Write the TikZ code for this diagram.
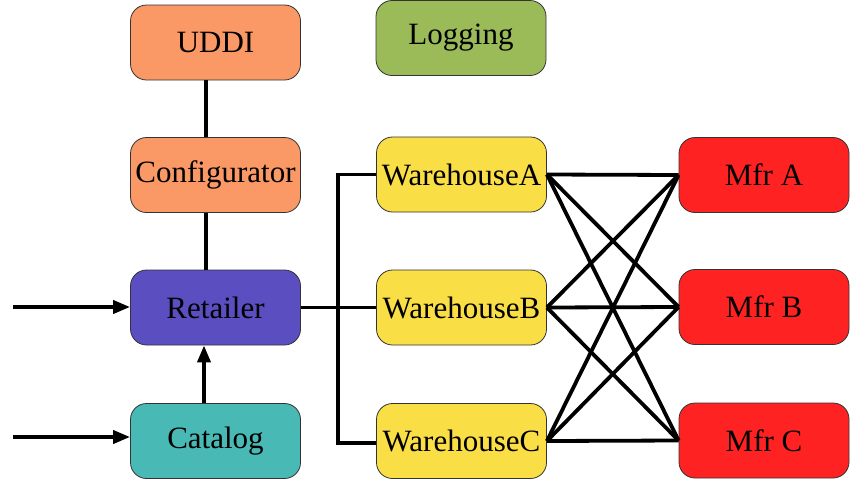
\documentclass[tikz,border=0pt]{standalone}
\usepackage{fontspec}
\setmainfont{Liberation Serif}
\newfontfamily\tnr{Liberation Serif}
\usetikzlibrary{arrows.meta}
\definecolor{cuddi}{RGB}{250,152,102}
\definecolor{clog}{RGB}{155,187,89}
\definecolor{cret}{RGB}{90,78,192}
\definecolor{ccat}{RGB}{72,185,180}
\definecolor{cwh}{RGB}{250,222,70}
\definecolor{cmfr}{RGB}{255,34,34}
\tikzset{
  box/.style={draw=black!80, line width=0.8pt, rounded corners=16pt, minimum width=170pt, minimum height=75pt, inner sep=0pt, font=\tnr\fontsize{31}{36}\selectfont},
  link/.style={line width=3.8pt, line cap=butt},
  arr/.style={link, -{Triangle[length=17pt,width=13pt]}}
}
\begin{document}
\begin{tikzpicture}[x=1pt,y=-1pt]
\useasboundingbox (0,0) rectangle (851,480);
\node[box, fill=cuddi] (uddi) at (215.5,42.5) {UDDI};
\node[box, fill=clog] (logging) at (461,38) {Logging};
\node[box, fill=cuddi] (conf) at (215.5,175) {Configurator};
\node[box, fill=cret] (ret) at (215.5,307.5) {Retailer};
\node[box, fill=ccat] (cat) at (215.5,441) {Catalog};
\node[box, fill=cwh] (wa) at (461.5,174.5) {WarehouseA};
\node[box, fill=cwh] (wb) at (461.5,307.5) {WarehouseB};
\node[box, fill=cwh] (wc) at (461.5,441) {WarehouseC};
\node[box, fill=cmfr] (ma) at (764,175) {Mfr A};
\node[box, fill=cmfr] (mb) at (764,307) {Mfr B};
\node[box, fill=cmfr] (mc) at (764,440.5) {Mfr C};
\coordinate (in1) at (13,307);
\coordinate (in2) at (13,437);
\coordinate (bus) at (338,307);
% vertical links
\draw[link] ([xshift=-9.5pt]uddi.south) -- ([xshift=-9.5pt]conf.north);
\draw[link] ([xshift=-9.5pt]conf.south) -- ([xshift=-9.5pt]ret.north);
\draw[arr] ([xshift=-11.5pt]cat.north) -- ([xshift=-11.5pt]ret.south);
% inputs
\draw[arr] (in1) -- (in1 -| ret.west);
\draw[arr] (in2) -- (in2 -| cat.west);
% bus
\draw[link] (ret.east |- wb.west) -- (wb.west);
\draw[link] (wa.west) -- (wa.west -| bus) -- ([yshift=-2pt]wc.west -| bus) -- ([yshift=-2pt]wc.west);
% crossings
\foreach \w in {wa,wb,wc}{
  \foreach \m in {ma,mb,mc}{
    \draw[link] (\w.east) -- (\m.west);
  }
}
\end{tikzpicture}
\end{document}
